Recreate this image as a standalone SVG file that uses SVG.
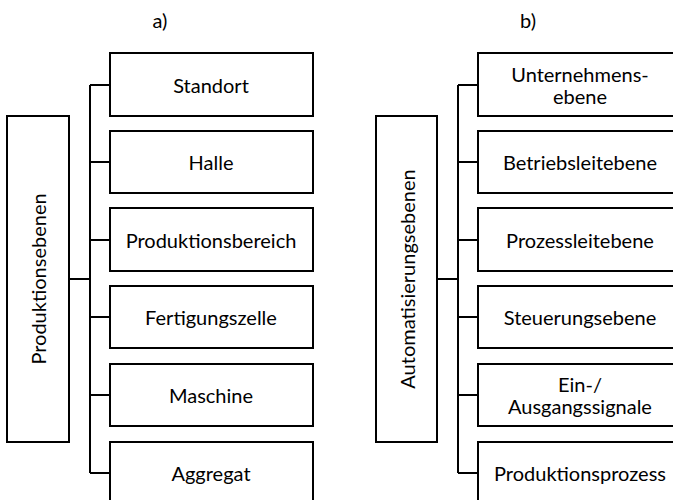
<svg xmlns="http://www.w3.org/2000/svg" width="673" height="500" viewBox="0 0 673 500">
<style>
.box{fill:#fff;stroke:#000;stroke-width:2}
.ln{fill:none;stroke:#000;stroke-width:2}
text{font-family:Lato,"Liberation Sans",sans-serif;font-size:20px;fill:#000;text-anchor:middle;dominant-baseline:central}
</style>
<rect width="673" height="500" fill="#fff"/>
<text x="160" y="20">a)</text>
<text x="528" y="20">b)</text>
<g id="connectors">
<path class="ln" d="M69,279H90M90,85V473M90,85H110M90,162H110M90,240H110M90,317H110M90,395H110M90,473H110"/>
<path class="ln" d="M437,279H458M458,85V473M458,85H478M458,162H478M458,240H478M458,317H478M458,395H478M458,473H478"/>
</g>
<g id="produktionsebenen"><rect class="box" x="7" y="116" width="62" height="326"/><text transform="translate(38,279) rotate(-90)">Produktionsebenen</text></g>
<g id="standort"><rect class="box" x="110" y="53" width="203" height="63"/><text x="211" y="85">Standort</text></g>
<g id="halle"><rect class="box" x="110" y="131" width="203" height="62"/><text x="211" y="162">Halle</text></g>
<g id="produktionsbereich"><rect class="box" x="110" y="208" width="203" height="63"/><text x="211" y="240">Produktionsbereich</text></g>
<g id="fertigungszelle"><rect class="box" x="110" y="286" width="203" height="62"/><text x="211" y="317">Fertigungszelle</text></g>
<g id="maschine"><rect class="box" x="110" y="364" width="203" height="62"/><text x="211" y="395">Maschine</text></g>
<g id="aggregat"><rect class="box" x="110" y="442" width="203" height="63"/><text x="211" y="473">Aggregat</text></g>
<g id="automatisierungsebenen"><rect class="box" x="376" y="116" width="61" height="326"/><text transform="translate(407,279) rotate(-90)">Automatisierungsebenen</text></g>
<g id="unternehmensebene"><rect class="box" x="478" y="53" width="204" height="63"/><text x="580" y="74">Unternehmens-</text><text x="580" y="96">ebene</text></g>
<g id="betriebsleitebene"><rect class="box" x="478" y="131" width="204" height="62"/><text x="580" y="162">Betriebsleitebene</text></g>
<g id="prozessleitebene"><rect class="box" x="478" y="208" width="204" height="63"/><text x="580" y="240">Prozessleitebene</text></g>
<g id="steuerungsebene"><rect class="box" x="478" y="286" width="204" height="62"/><text x="580" y="317">Steuerungsebene</text></g>
<g id="ein-ausgangssignale"><rect class="box" x="478" y="364" width="204" height="62"/><text x="580" y="384">Ein-/</text><text x="580" y="406">Ausgangssignale</text></g>
<g id="produktionsprozess"><rect class="box" x="478" y="442" width="204" height="63"/><text x="580" y="473">Produktionsprozess</text></g>
</svg>
